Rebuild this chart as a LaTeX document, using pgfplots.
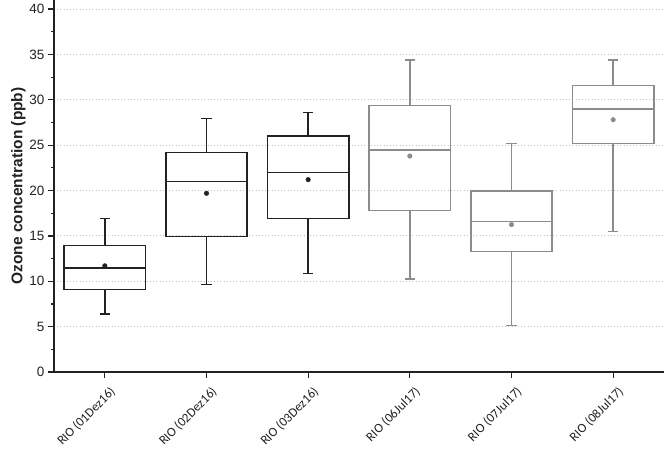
\documentclass[border=0pt]{standalone}
\usepackage{pgfplots}
\pgfplotsset{compat=1.18}
\usepgfplotslibrary{statistics}
\usepackage{fontspec}
\setmainfont{Liberation Sans}
\newfontfamily\calib{Carlito}
\definecolor{dk}{HTML}{222222}
\definecolor{gr}{HTML}{8C8C8C}
\begin{document}
\begin{tikzpicture}
\begin{axis}[
  name=ax, at={(0,0)}, anchor=south west,
  scale only axis, width=610pt, height=372pt,
  xmin=0.5, xmax=6.5, ymin=0, ymax=41,
  axis lines*=left,
  axis line style={dk, line width=1.2pt},
  tick align=outside,
  major tick length=6pt, minor tick length=3pt,
  tick style={dk, line width=1.2pt},
  ytick={0,5,...,40}, minor y tick num=1,
  xtick={1,2,3,4,5,6},
  xticklabels={RIO (01Dez16),RIO (02Dez16),RIO (03Dez16),RIO (06Jul17),RIO (07Jul17),RIO (08Jul17)},
  x tick label style={font=\calib\fontsize{13}{15}\selectfont, rotate=45, anchor=north east, text=dk, yshift=-5pt, xshift=1pt},
  y tick label style={font=\fontsize{13.5}{15}\selectfont, text=dk},
  /pgf/number format/assume math mode=true,
  ymajorgrids, grid style={dash pattern=on 1pt off 2.2pt, gray!50, line width=0.9pt},
  ylabel={\bfseries Ozone concentration (ppb)},
  ylabel style={font=\fontsize{15.5}{17}\selectfont, text=dk, yshift=-3pt},
  boxplot/draw direction=y,
  boxplot/every box/.style={line width=1.4pt},
  boxplot/every whisker/.style={line width=1.4pt},
  boxplot/every median/.style={line width=1.4pt},
]
\addplot[dk, line width=1.4pt, solid, boxplot prepared={lower whisker=6.4, lower quartile=9.1, median=11.45, upper quartile=13.95, upper whisker=16.9, draw position=1, box extend=0.8, whisker extend=0.1}] coordinates {};
\addplot[dk, line width=1.4pt, solid, boxplot prepared={lower whisker=9.65, lower quartile=14.95, median=21.0, upper quartile=24.2, upper whisker=27.95, draw position=2, box extend=0.8, whisker extend=0.1}] coordinates {};
\addplot[dk, line width=1.4pt, solid, boxplot prepared={lower whisker=10.85, lower quartile=16.95, median=22.0, upper quartile=26.0, upper whisker=28.6, draw position=3, box extend=0.8, whisker extend=0.1}] coordinates {};
\addplot[gr, line width=1.4pt, solid, boxplot prepared={lower whisker=10.25, lower quartile=17.8, median=24.45, upper quartile=29.4, upper whisker=34.4, draw position=4, box extend=0.8, whisker extend=0.1}] coordinates {};
\addplot[gr, line width=1.4pt, solid, boxplot prepared={lower whisker=5.15, lower quartile=13.3, median=16.6, upper quartile=19.95, upper whisker=25.2, draw position=5, box extend=0.8, whisker extend=0.1}] coordinates {};
\addplot[gr, line width=1.4pt, solid, boxplot prepared={lower whisker=15.5, lower quartile=25.2, median=29.0, upper quartile=31.6, upper whisker=34.4, draw position=6, box extend=0.8, whisker extend=0.1}] coordinates {};
\addplot[only marks, mark=*, mark size=2.3pt, dk] coordinates {(1,11.7) (2,19.7) (3,21.2)};
\addplot[only marks, mark=*, mark size=2.3pt, gr] coordinates {(4,23.8) (5,16.25) (6,27.8)};
\end{axis}
\pgfresetboundingbox
\path (-54pt,-77pt) rectangle (610pt,372pt);
\end{tikzpicture}
\end{document}
